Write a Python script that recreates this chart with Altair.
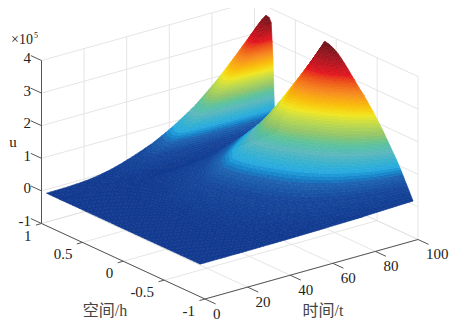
import altair as alt
import pandas as pd

# values
t_vals = list(range(0, 101, 2))
t_growth = [0.000,0.000,0.001,0.001,0.002,0.003,0.005,0.007,0.009,0.012,0.015,0.021,0.027,0.034,0.042,0.050,
            0.061,0.072,0.084,0.097,0.110,0.124,0.139,0.154,0.169,0.185,0.205,0.225,0.246,0.268,0.290,0.315,
            0.340,0.366,0.393,0.420,0.453,0.486,0.520,0.555,0.590,0.628,0.667,0.707,0.748,0.790,0.831,0.873,
            0.915,0.957,1.000]
h_vals = [-0.94,-0.90,-0.86,-0.82,-0.78,-0.74,-0.70,-0.66,-0.62,-0.58,-0.54,-0.50,-0.46,-0.42,-0.38,-0.34,-0.30,
          -0.26,-0.22,-0.18,-0.14,-0.10,-0.06,-0.02,0.02,0.06,0.10,0.14,0.18,0.22,0.26,0.30,0.34,0.38,0.42,0.46,
          0.50,0.54,0.58,0.62,0.66,0.70,0.73,0.745,0.756,0.765,0.775,0.784,0.796,0.82,0.86,0.90,0.94]
h_profile = [0.03,0.085,0.14,0.195,0.25,0.30,0.345,0.39,0.435,0.48,0.52,0.56,0.60,0.635,0.67,0.705,0.735,
             0.765,0.80,0.83,0.865,0.895,0.925,0.95,0.97,0.985,0.995,1.0,0.945,0.89,0.84,0.77,0.70,0.635,0.57,0.51,
             0.46,0.40,0.345,0.29,0.22,0.13,0.08,0.10,0.245,0.46,0.68,0.80,0.95,0.985,0.99,0.95,0.905]
u_peak = 3.76

z_ticks = [4, 3, 2, 1, 0, -1]
h_ticks = [1, 0.5, 0, -0.5, -1]
h_labels = ["1", "0.5", "0", "-0.5", "-1"]
t_ticks = [0, 20, 40, 60, 80, 100]

color_u = [0, 0.5, 0.75, 0.98, 1.35, 1.75, 2.2, 2.68, 3.08, 3.76]
color_hex = ["#10388e", "#16479c", "#1e62b0", "#29a9e0", "#5cb8bc", "#93c46a", "#f2e620", "#f68b1f", "#e5171f", "#6b1419"]
band_step = 0.06


def proj(t, h, u):
    """Oblique view used by the reference's 3-D axes."""
    s = h + 1
    return (205 + 2.13 * t - 81.75 * s, 299 - 0.595 * t - 37.75 * s - 32.6 * (u + 1))


def clip(poly, level, keep_above):
    """Cut a polygon of (x, y, u) corners at the height `level`."""
    out = []
    n = len(poly)
    for i in range(n):
        a, b = poly[i], poly[(i + 1) % n]
        ina = a[2] >= level if keep_above else a[2] <= level
        inb = b[2] >= level if keep_above else b[2] <= level
        if ina:
            out.append(a)
        if ina != inb:
            r = (level - a[2]) / (b[2] - a[2])
            out.append((a[0] + r * (b[0] - a[0]), a[1] + r * (b[1] - a[1]), level))
    return out


# surface cells, far to near, cut into bands of equal height
cells = []
cid = 0
for i in range(len(h_vals) - 2, -1, -1):
    for j in range(len(t_vals) - 2, -1, -1):
        corners = [(j, i), (j + 1, i), (j + 1, i + 1), (j, i + 1)]
        poly = []
        for a, b in corners:
            u = u_peak * t_growth[a] * h_profile[b]
            x, y = proj(t_vals[a], h_vals[b], u)
            poly.append((x, y, u))
        lo = int(min(p[2] for p in poly) / band_step)
        hi = int(max(p[2] for p in poly) / band_step)
        for band in range(lo, hi + 1):
            piece = clip(clip(poly, band * band_step, True), (band + 1) * band_step, False)
            if len(piece) < 3:
                continue
            for k, p in enumerate(piece):
                cells.append({"cell": f"c{cid}", "k": k, "x": round(p[0], 2), "y": round(p[1], 2),
                              "u": round((band + 0.5) * band_step, 3)})
            cid += 1
surface_df = pd.DataFrame(cells)

# grid lines on walls and floor
grid = []
def seg(rows, a, b):
    x, y = proj(*a)
    x2, y2 = proj(*b)
    rows.append({"x": x, "y": y, "x2": x2, "y2": y2})

for z in z_ticks:
    seg(grid, (0, 1, z), (100, 1, z))
    seg(grid, (100, 1, z), (100, -1, z))
for t in t_ticks:
    seg(grid, (t, 1, -1), (t, 1, 4))
    seg(grid, (t, -1, -1), (t, 1, -1))
for h in h_ticks:
    seg(grid, (100, h, -1), (100, h, 4))
    seg(grid, (0, h, -1), (100, h, -1))
grid_df = pd.DataFrame(grid)

axes = []
seg(axes, (0, 1, -1), (0, 1, 4))
seg(axes, (0, 1, -1), (0, -1, -1))
seg(axes, (0, -1, -1), (100, -1, -1))
for z in z_ticks:
    seg(axes, (0, 1, z), (0, 1.13, z))
for h in h_ticks:
    seg(axes, (0, h, -1), (-2.6, h, -1))
for t in t_ticks:
    seg(axes, (t, -1, -1), (t, -1.13, -1))
axes_df = pd.DataFrame(axes)

xs = alt.Scale(domain=[8, 459])
ys = alt.Scale(domain=[8, 328], reverse=True)
X = alt.X("x:Q", scale=xs, axis=None)
Y = alt.Y("y:Q", scale=ys, axis=None)


def rules(df, color, width):
    return alt.Chart(df).mark_rule(color=color, strokeWidth=width).encode(X, Y, x2="x2:Q", y2="y2:Q")


SERIF = "Liberation Serif, Times New Roman, serif"
CJK = "Liberation Serif, Noto Sans CJK SC"


def labels(rows, align, size=15, font=SERIF, color="#222222"):
    return alt.Chart(pd.DataFrame(rows)).mark_text(
        align=align, baseline="middle", fontSize=size, font=font, color=color
    ).encode(X, Y, text="s:N")


z_rows = []
for z in z_ticks:
    x, y = proj(0, 1, z)
    z_rows.append({"x": x - 10.5, "y": y - 2.5, "s": str(z)})
h_rows = []
for h, s in zip(h_ticks, h_labels):
    x, y = proj(0, h, -1)
    h_rows.append({"x": x - 10, "y": y + 12, "s": s})
t_rows = []
for t in t_ticks:
    x, y = proj(t, -1, -1)
    t_rows.append({"x": x + 8, "y": y + 14.5, "s": str(t)})

scale_u = alt.Scale(domain=color_u, range=color_hex)
surface = alt.Chart(surface_df).mark_line(interpolate="linear-closed", strokeWidth=0.6).encode(
    X, Y,
    detail="cell:N",
    order="k:Q",
    fill=alt.Fill("u:Q", scale=scale_u, legend=None),
    stroke=alt.Stroke("u:Q", scale=scale_u, legend=None),
)

chart = alt.layer(
    rules(grid_df, "#e2e2e2", 0.9),
    surface,
    rules(axes_df, "#555555", 1),
    labels(z_rows, "right"),
    labels(h_rows, "right"),
    labels(t_rows, "left"),
    labels([{"x": 13, "y": 142, "s": "u"}], "center"),
    labels([{"x": 22, "y": 39.5, "s": "×10"}], "center", 14),
    labels([{"x": 36, "y": 36, "s": "5"}], "center", 8),
    labels([{"x": 105, "y": 311, "s": "空间/h"}], "center", 16, CJK, "#444444"),
    labels([{"x": 323, "y": 311, "s": "时间/t"}], "center", 16, CJK, "#444444"),
).properties(width=451, height=320, padding=0, autosize="none").configure_view(stroke=None)

chart.save("out.html", embed_options={"renderer": "svg", "actions": False})
